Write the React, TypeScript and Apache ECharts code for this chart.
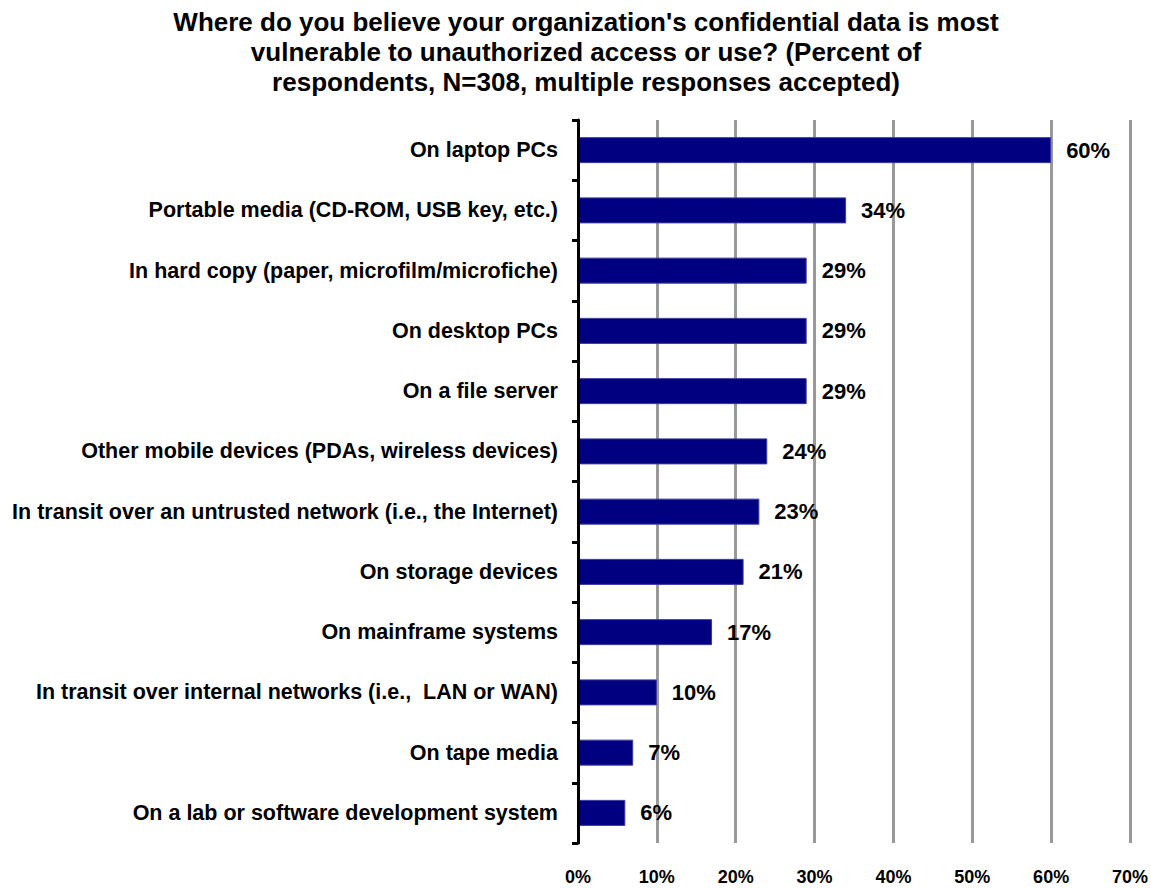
import React, { useEffect, useRef } from "react";
import * as echarts from "echarts";

const titleLines = [
  "Where do you believe your organization's confidential data is most",
  "vulnerable to unauthorized access or use? (Percent of",
  "respondents, N=308, multiple responses accepted)",
];

const categories = [
  "On laptop PCs",
  "Portable media (CD-ROM, USB key, etc.)",
  "In hard copy (paper, microfilm/microfiche)",
  "On desktop PCs",
  "On a file server",
  "Other mobile devices (PDAs, wireless devices)",
  "In transit over an untrusted network (i.e., the Internet)",
  "On storage devices",
  "On mainframe systems",
  "In transit over internal networks (i.e.,  LAN or WAN)",
  "On tape media",
  "On a lab or software development system",
];

const values = [60, 34, 29, 29, 29, 24, 23, 21, 17, 10, 7, 6];

const xMin = 0;
const xMax = 70;
const xInterval = 10;

export default function App() {
  const ref = useRef<HTMLDivElement>(null);
  useEffect(() => {
    document.body.style.margin = "0";
    const chart = echarts.init(ref.current!, null, { renderer: "svg" });
    chart.setOption({
      animation: false,
      backgroundColor: "#ffffff",
      textStyle: { fontFamily: "Liberation Sans, Arial, sans-serif" },
      title: {
        text: titleLines.join("\n"),
        left: 581,
        top: 2,
        textAlign: "center",
        textStyle: {
          fontSize: 26,
          fontWeight: "bold",
          color: "#000",
          lineHeight: 30,
          fontFamily: "Liberation Sans, Arial, sans-serif",
        },
      },
      grid: { left: 578, right: 20, top: 120, bottom: 45, containLabel: false },
      xAxis: {
        type: "value",
        min: xMin,
        max: xMax,
        interval: xInterval,
        axisLine: { show: false },
        axisTick: { show: false },
        axisLabel: {
          formatter: "{value}%",
          fontSize: 18,
          fontWeight: "bold",
          color: "#000",
          margin: 25,
        },
        splitLine: { show: true, lineStyle: { color: "#999999", width: 3 } },
      },
      yAxis: {
        type: "category",
        data: categories,
        inverse: true,
        axisLine: { show: true, lineStyle: { color: "#000", width: 3 } },
        axisTick: { show: true, length: 6, lineStyle: { color: "#000", width: 3 } },
        axisLabel: {
          fontSize: 21.5,
          fontWeight: "bold",
          color: "#000",
          margin: 20,
        },
        z: 5,
      },
      series: [
        {
          type: "bar",
          data: values,
          barWidth: 26,
          itemStyle: { color: "#000080", borderColor: "#3a3aa0", borderWidth: 1 },
          label: {
            show: true,
            position: "right",
            distance: 15,
            formatter: "{c}%",
            fontSize: 22,
            fontWeight: "bold",
            color: "#000",
          },
        },
      ],
    });
    return () => chart.dispose();
  }, []);
  return <div ref={ref} style={{ width: 1151, height: 888 }} />;
}
